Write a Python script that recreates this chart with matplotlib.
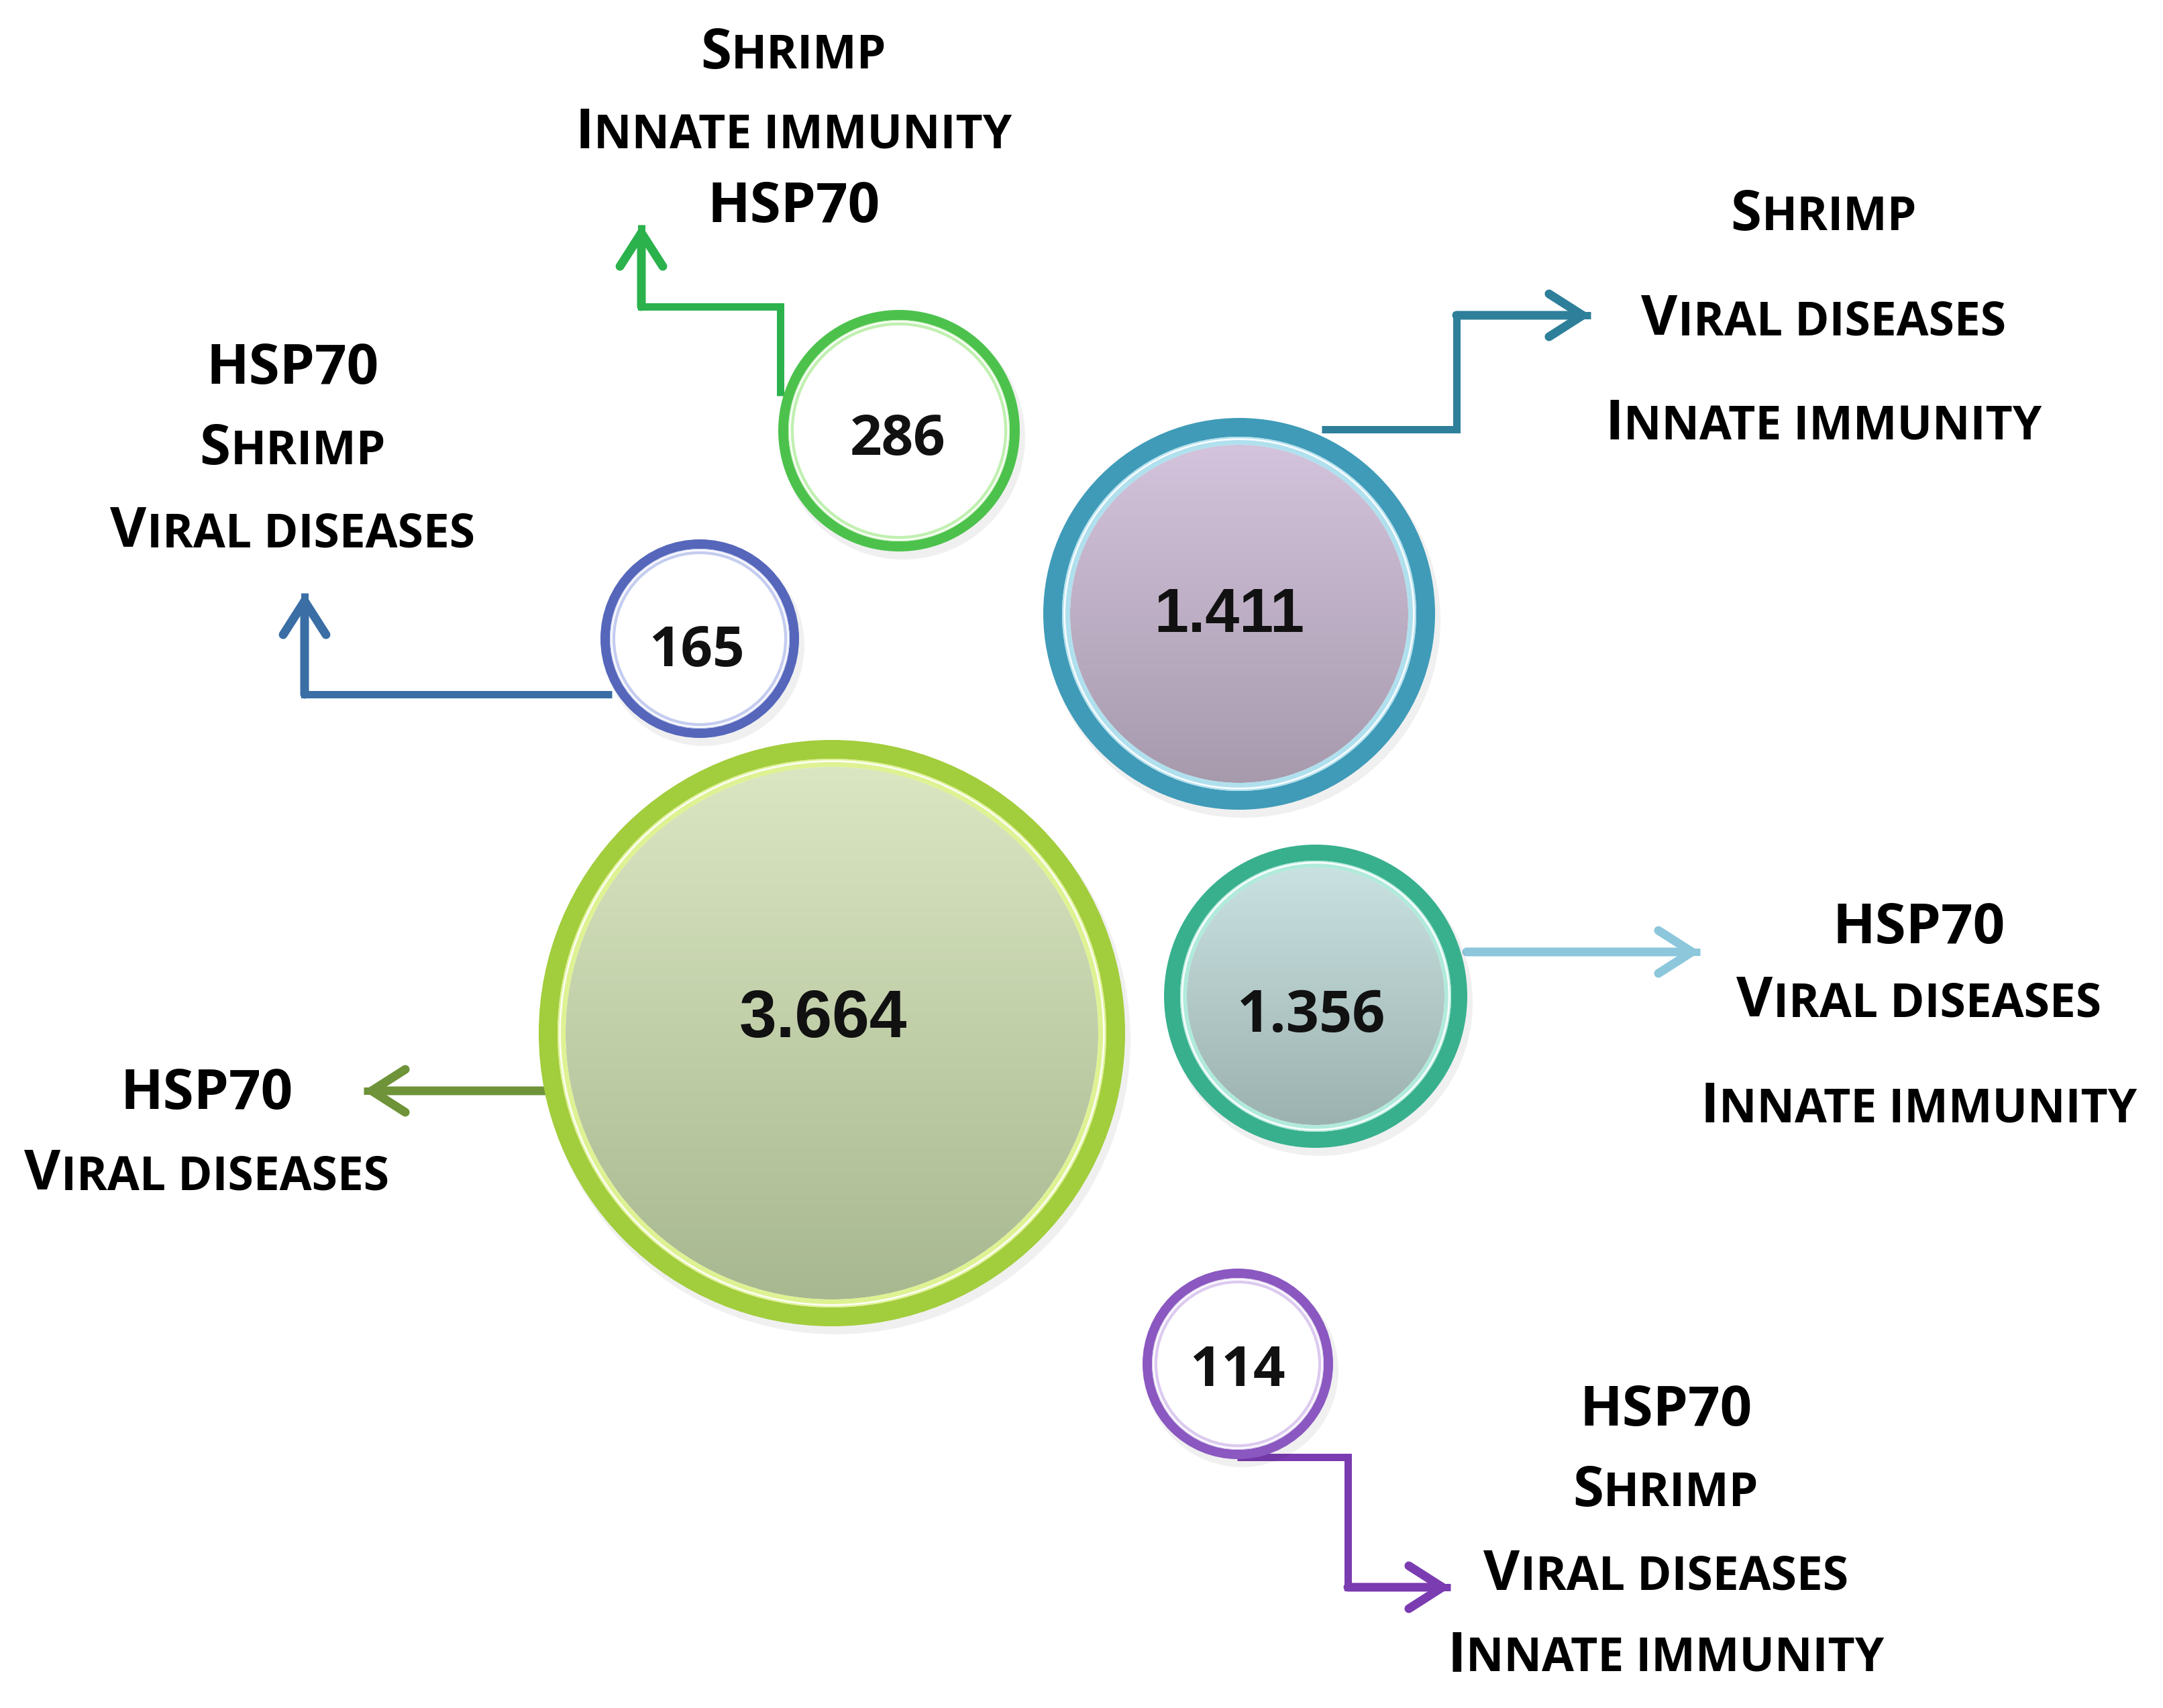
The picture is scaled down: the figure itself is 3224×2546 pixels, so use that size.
import numpy as np
import matplotlib.pyplot as plt
from matplotlib.patches import Circle
from matplotlib.colors import LinearSegmentedColormap

# ---- data ----
counts = ["3.664", "1.411", "1.356", "286", "165", "114"]
keywords = [
    ["HSP70", "Viral diseases"],
    ["Shrimp", "Viral diseases", "Innate immunity"],
    ["HSP70", "Viral diseases", "Innate immunity"],
    ["Shrimp", "Innate immunity", "HSP70"],
    ["HSP70", "Shrimp", "Viral diseases"],
    ["HSP70", "Shrimp", "Viral diseases", "Innate immunity"],
]

# ---- layout (pixels, y downwards) ----
centers = [(1240, 1540), (1847, 915), (1961, 1485), (1340, 642), (1043, 952), (1845, 2033)]
radii = [437, 292, 226, 180, 148, 142]
ring_w = [28, 28, 24, 15, 14, 14]
band_w = [12, 12, 10, 8, 8, 8]
num_xy = [(1227, 1546), (1832, 942), (1955, 1538), (1338, 678), (1038, 993), (1844, 2066)]
num_font = ["Liberation Sans", "Liberation Sans", "Open Sans", "Open Sans", "Open Sans", "Open Sans"]
num_size = [72, 66, 62, 60, 60, 60]
label_x = [308, 2718, 2860, 1183, 436, 2483]
label_base = [[1653, 1773], [343, 499, 655], [1406, 1515, 1673],
              [102, 221, 331], [572, 692, 815], [2125, 2245, 2370, 2492]]
paths = [
    [(832, 1626), (542, 1626)],
    [(1970, 640), (2171, 640), (2171, 470), (2371, 470)],
    [(2186, 1419), (2534, 1419)],
    [(1163, 590), (1163, 457), (956, 457), (956, 335)],
    [(912, 1035), (454, 1035), (454, 884)],
    [(1844, 2172), (2009, 2172), (2009, 2366), (2162, 2366)],
]

# ---- styles ----
ring_col = ["#a2cd3c", "#3f9bb8", "#38b08e", "#4cc24c", "#5566bb", "#8a58c0"]
band_col = ["#dff293", "#b0e0ee", "#b0eadb", "#c0f0b0", "#c4ccf0", "#dccaf0"]
fill_top = ["#dae6c2", "#d3c3dc", "#c9e1e1", "white", "white", "white"]
fill_bot = ["#a8b890", "#a79aad", "#9cb2b0", "white", "white", "white"]
arrow_col = ["#6e9338", "#2e7f9a", "#8cc7dc", "#2bb24c", "#3a6ea5", "#7a3cb0"]

BIG, SMALL = 60, 50
LABEL_FONT = ["Open Sans", "DejaVu Sans"]
PT = 0.72  # points per pixel at dpi 100

fig = plt.figure(figsize=(32.24, 25.46), dpi=100)
ax = fig.add_axes([0, 0, 1, 1])
ax.set_xlim(0, 3224)
ax.set_ylim(2546, 0)
ax.axis("off")
renderer = fig.canvas.get_renderer()


def caps_runs(word):
    runs = []
    for i, ch in enumerate(word):
        big = i == 0 or not ch.islower()
        if ch == " " and runs:
            big = runs[-1][1]
        if runs and runs[-1][1] == big:
            runs[-1][0] += ch.upper()
        else:
            runs.append([ch.upper(), big])
    return runs


def draw_label(cx, base, word):
    placed, x = [], 0
    for s, big in caps_runs(word):
        t = ax.text(0, base, s, fontsize=BIG if big else SMALL, fontweight="bold",
                    family=LABEL_FONT, ha="left", va="baseline", zorder=5)
        placed.append((t, x))
        x += t.get_window_extent(renderer).width
    for t, off in placed:
        t.set_x(cx - x / 2 + off)


def draw_arrow(path, color):
    xs, ys = zip(*path)
    ax.plot(xs, ys, color=color, lw=11 * PT, solid_capstyle="butt",
            solid_joinstyle="miter", zorder=1)
    ax.annotate("", xy=path[-1], xytext=path[-2],
                arrowprops=dict(arrowstyle="->,head_length=36,head_width=23",
                                mutation_scale=1, color=color, lw=13 * PT,
                                shrinkA=0, shrinkB=0), zorder=1)


def draw_bubble(i):
    cx, cy = centers[i]
    r, t, b = radii[i], ring_w[i], band_w[i]
    # soft shadow
    ax.add_patch(Circle((cx + 6, cy + 10), r + 2, color="#000000", alpha=0.06, lw=0, zorder=2))
    inner = r - t - b
    cmap = LinearSegmentedColormap.from_list("g%d" % i, [fill_top[i], fill_bot[i]])
    grad = np.linspace(0, 1, 256).reshape(-1, 1)
    im = ax.imshow(grad, cmap=cmap, extent=(cx - inner, cx + inner, cy + inner, cy - inner),
                   aspect="auto", interpolation="bicubic", zorder=3)
    im.set_clip_path(Circle((cx, cy), inner, transform=ax.transData))
    ax.add_patch(Circle((cx, cy), r - t / 2, fill=False, ec=ring_col[i], lw=t * PT, zorder=4))
    ax.add_patch(Circle((cx, cy), r - t - b / 2, fill=False, ec=band_col[i], lw=b * PT, zorder=4))
    ax.add_patch(Circle((cx, cy), r - t - b * 0.3, fill=False, ec="white", lw=2, alpha=0.9, zorder=4))
    nx, ny = num_xy[i]
    ax.text(nx, ny, counts[i], fontsize=num_size[i], fontweight="bold",
            family=[num_font[i], "DejaVu Sans"], ha="center", va="baseline",
            color="#111111", zorder=6)


for i in range(len(counts)):
    draw_arrow(paths[i], arrow_col[i])
    draw_bubble(i)
    for word, base in zip(keywords[i], label_base[i]):
        draw_label(label_x[i], base, word)

ax.set_xlim(0, 3224)
ax.set_ylim(2546, 0)
fig.savefig("out.png", dpi=100, facecolor="white")
